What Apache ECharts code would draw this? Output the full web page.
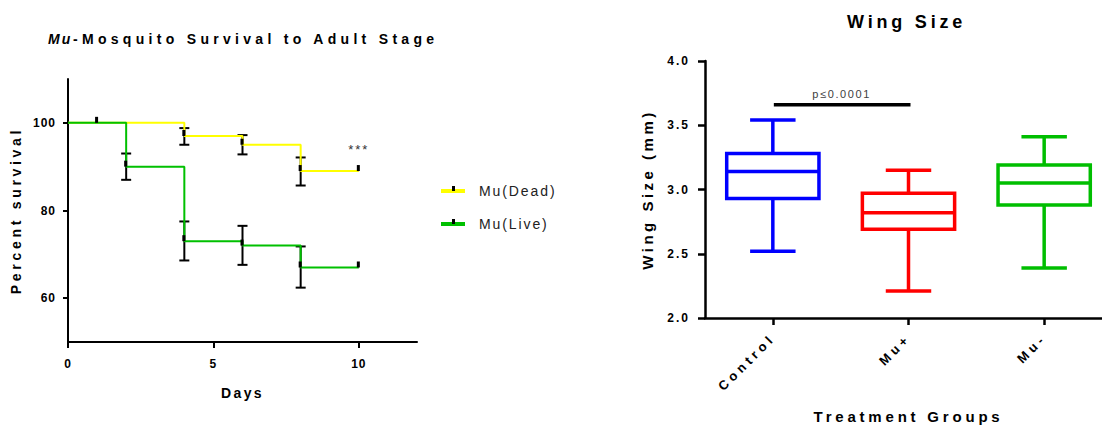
<!DOCTYPE html>
<html>
<head>
<meta charset="utf-8">
<script src="https://cdn.jsdelivr.net/npm/echarts@6/dist/echarts.min.js"></script>
<style>
html,body{margin:0;padding:0;background:#fff;}
#c{width:1102px;height:425px;}
</style>
</head>
<body>
<div id="c"></div>
<script>
// ---------------- DATA ----------------
// Left: Kaplan-Meier style survival
const deadDays = [0, 4, 6, 8, 10];
const deadSurvival = [100, 97, 95, 89, 89];
const liveDays = [0, 2, 4, 6, 8, 10];
const liveSurvival = [100, 90, 73, 72, 67, 67];

const deadErrDays = [4, 6, 8];
const deadErrLow = [95.0, 92.8, 85.7];
const deadErrHigh = [98.8, 97.2, 92.1];
const liveErrDays = [2, 4, 6, 8];
const liveErrLow = [87.0, 68.6, 67.6, 62.4];
const liveErrHigh = [93.0, 77.5, 76.5, 71.8];

const deadCensorDays = [1, 4, 6, 8, 10];
const deadCensorVals = [100, 97, 95, 89, 89];
const liveCensorDays = [2, 4, 6, 8, 10];
const liveCensorVals = [90, 73, 72, 67, 67];

const survivalXTicks = [0, 5, 10];
const survivalYTicks = [60, 80, 100];
const starsLabel = '***';
const starsAt = [10, 93.9];

// Right: wing size box plot
const groups = ['Control', 'Mu+', 'Mu-'];
const whiskerLow = [2.52, 2.21, 2.39];
const q1 = [2.93, 2.69, 2.88];
const median = [3.14, 2.82, 3.05];
const q3 = [3.28, 2.97, 3.19];
const whiskerHigh = [3.54, 3.15, 3.41];
const sigFrom = 0, sigTo = 1, sigLevel = 3.66, sigLabel = 'p\u22640.0001';

// ---------------- STYLE ----------------
const FONT = "'Liberation Sans', Arial, Helvetica, sans-serif";
const YELLOW = '#FFFF00';
const GREEN = '#00C000';
const boxColors = ['#0000FF', '#FF0000', '#00BE00'];

const SPACING = {
  'Mu': 2, '-Mosquito Survival to Adult Stage': 4.3, 'Wing Size': 3.8,
  'Percent survival': 3.7, 'Days': 2.4, 'Wing Size (mm)': 3.5, 'Treatment Groups': 3.8,
  'Mu(Dead)': 1.9, 'Mu(Live)': 1.9, 'p\u22640.0001': 1.6, '***': 2,
  'Control': 4, 'Mu+': 4, 'Mu-': 4
};
function spacingFor(t) {
  if (SPACING[t] != null) return SPACING[t];
  if (/^\d\.\d$/.test(t)) return 2;
  if (/^\d+$/.test(t)) return 1;
  return null;
}

const chart = echarts.init(document.getElementById('c'), null, {renderer: 'svg', width: 1102, height: 425});

function errorBarItem(params, api) {
  const x = api.value(0);
  const lo = api.coord([x, api.value(1)]);
  const hi = api.coord([x, api.value(2)]);
  const hw = 5;
  const st = {stroke: '#000', lineWidth: 2};
  return {type: 'group', children: [
    {type: 'line', shape: {x1: lo[0], y1: lo[1], x2: hi[0], y2: hi[1]}, style: st},
    {type: 'line', shape: {x1: lo[0] - hw, y1: lo[1], x2: lo[0] + hw, y2: lo[1]}, style: st},
    {type: 'line', shape: {x1: hi[0] - hw, y1: hi[1], x2: hi[0] + hw, y2: hi[1]}, style: st}
  ]};
}
function censorItem(params, api) {
  const p = api.coord([api.value(0), api.value(1)]);
  return {type: 'rect', shape: {x: p[0] - 2, y: p[1] - 6, width: 3, height: 6}, style: {fill: '#000'}};
}
function boxItem(params, api) {
  const i = api.value(0);
  const band = api.size([1, 0])[0];
  const bw = band * 0.68, cw = band * 0.335;
  const cx = api.coord([i, 0])[0];
  const y = k => api.coord([i, api.value(k)])[1];
  const yMin = y(1), yQ1 = y(2), yMed = y(3), yQ3 = y(4), yMax = y(5);
  const col = boxColors[params.dataIndex];
  const st = {stroke: col, lineWidth: 3.5, fill: null};
  return {type: 'group', children: [
    {type: 'rect', shape: {x: cx - bw / 2, y: yQ3, width: bw, height: yQ1 - yQ3}, style: {stroke: col, lineWidth: 3.5, fill: 'none'}},
    {type: 'line', shape: {x1: cx - bw / 2, y1: yMed, x2: cx + bw / 2, y2: yMed}, style: st},
    {type: 'line', shape: {x1: cx, y1: yQ3, x2: cx, y2: yMax}, style: st},
    {type: 'line', shape: {x1: cx, y1: yQ1, x2: cx, y2: yMin}, style: st},
    {type: 'line', shape: {x1: cx - cw / 2, y1: yMax, x2: cx + cw / 2, y2: yMax}, style: st},
    {type: 'line', shape: {x1: cx - cw / 2, y1: yMin, x2: cx + cw / 2, y2: yMin}, style: st}
  ]};
}
function sigItem(params, api) {
  const a = api.coord([api.value(0), api.value(2)]);
  const b = api.coord([api.value(1), api.value(2)]);
  return {type: 'group', children: [
    {type: 'line', shape: {x1: a[0] + 1, y1: a[1], x2: b[0] + 2, y2: b[1]}, style: {stroke: '#000', lineWidth: 3.5}},
    {type: 'text', x: (a[0] + b[0]) / 2 + 1, y: a[1] - 11,
     style: {text: sigLabel, fill: '#404040', font: '11px ' + FONT, align: 'center', verticalAlign: 'middle'}}
  ]};
}

const option = {
  animation: false,
  textStyle: {fontFamily: FONT},
  title: [
    {text: 'Mu', left: 48, top: 32, padding: 0,
     textStyle: {fontStyle: 'italic', fontWeight: 'bold', fontSize: 14, color: '#000', fontFamily: FONT}},
    {text: '-Mosquito Survival to Adult Stage', left: 73, top: 32, padding: 0,
     textStyle: {fontWeight: 'bold', fontSize: 14, color: '#000', fontFamily: FONT}},
    {text: 'Wing Size', left: 847, top: 13, padding: 0,
     textStyle: {fontWeight: 'bold', fontSize: 18, color: '#000', fontFamily: FONT}}
  ],
  legend: {
    data: ['Mu(Dead)', 'Mu(Live)'],
    orient: 'vertical', left: 441, top: 184, padding: 0,
    icon: 'rect', itemWidth: 24, itemHeight: 4, itemGap: 19,
    textStyle: {fontSize: 14, color: '#222', fontFamily: FONT, padding: [0, 0, 0, 9]}
  },
  grid: [
    {left: 68, right: 685, top: 79, bottom: 83, outerBoundsMode: 'none', containLabel: false},
    {left: 705, right: -10, top: 61, bottom: 107, outerBoundsMode: 'none', containLabel: false}
  ],
  xAxis: [
    {type: 'value', gridIndex: 0, min: 0, max: 12,
     name: 'Days', nameLocation: 'middle', nameGap: 44,
     nameTextStyle: {fontWeight: 'bold', fontSize: 14, color: '#000'},
     axisLine: {show: true, onZero: false, lineStyle: {color: '#000', width: 2}},
     axisTick: {show: true, length: 6, customValues: survivalXTicks, lineStyle: {color: '#000', width: 2}},
     axisLabel: {customValues: survivalXTicks, margin: 16, fontWeight: 'bold', fontSize: 12, color: '#000'},
     splitLine: {show: false}},
    {type: 'category', gridIndex: 1, data: groups, boundaryGap: true,
     name: 'Treatment Groups', nameLocation: 'middle', nameGap: 91,
     nameTextStyle: {fontWeight: 'bold', fontSize: 15, color: '#000'},
     axisLine: {show: true, lineStyle: {color: '#000', width: 2.5}},
     axisTick: {show: true, alignWithLabel: true, length: 7, lineStyle: {color: '#000', width: 2.5}},
     axisLabel: {rotate: 45, margin: 18, fontWeight: 'bold', fontSize: 13, color: '#000', interval: 0},
     splitLine: {show: false}}
  ],
  yAxis: [
    {type: 'value', gridIndex: 0, min: 50, max: 110,
     name: 'Percent survival', nameLocation: 'middle', nameGap: 45,
     nameTextStyle: {fontWeight: 'bold', fontSize: 14, color: '#000'},
     axisLine: {show: true, onZero: false, lineStyle: {color: '#000', width: 2}},
     axisTick: {show: true, length: 5, customValues: survivalYTicks, lineStyle: {color: '#000', width: 2}},
     axisLabel: {customValues: survivalYTicks, margin: 12, fontWeight: 'bold', fontSize: 12, color: '#000'},
     splitLine: {show: false}},
    {type: 'value', gridIndex: 1, min: 2, max: 4, interval: 0.5,
     name: 'Wing Size (mm)', nameLocation: 'middle', nameGap: 50,
     nameTextStyle: {fontWeight: 'bold', fontSize: 15, color: '#000'},
     axisLine: {show: true, lineStyle: {color: '#000', width: 2.5}},
     axisTick: {show: true, length: 7, lineStyle: {color: '#000', width: 2.5}},
     axisLabel: {margin: 15, fontWeight: 'bold', fontSize: 12, color: '#000', formatter: v => v.toFixed(1)},
     splitLine: {show: false}}
  ],
  series: [
    {type: 'line', name: 'Mu(Dead)', xAxisIndex: 0, yAxisIndex: 0, step: 'end', symbol: 'none',
     data: deadDays.map((d, i) => [d, deadSurvival[i]]),
     lineStyle: {color: YELLOW, width: 2}, itemStyle: {color: YELLOW},
     markPoint: {symbol: 'circle', symbolSize: 0, silent: true,
       label: {show: true, position: 'inside', formatter: starsLabel, fontSize: 13, color: '#333', fontFamily: FONT},
       data: [{coord: starsAt}]}},
    {type: 'line', name: 'Mu(Live)', xAxisIndex: 0, yAxisIndex: 0, step: 'end', symbol: 'none',
     data: liveDays.map((d, i) => [d, liveSurvival[i]]),
     lineStyle: {color: GREEN, width: 2}, itemStyle: {color: GREEN}},
    {type: 'custom', name: 'deadErr', xAxisIndex: 0, yAxisIndex: 0, renderItem: errorBarItem,
     data: deadErrDays.map((d, i) => [d, deadErrLow[i], deadErrHigh[i]]), z: 3},
    {type: 'custom', name: 'liveErr', xAxisIndex: 0, yAxisIndex: 0, renderItem: errorBarItem,
     data: liveErrDays.map((d, i) => [d, liveErrLow[i], liveErrHigh[i]]), z: 3},
    {type: 'custom', name: 'deadCensor', xAxisIndex: 0, yAxisIndex: 0, renderItem: censorItem,
     data: deadCensorDays.map((d, i) => [d, deadCensorVals[i]]), z: 4},
    {type: 'custom', name: 'liveCensor', xAxisIndex: 0, yAxisIndex: 0, renderItem: censorItem,
     data: liveCensorDays.map((d, i) => [d, liveCensorVals[i]]), z: 4},
    {type: 'custom', name: 'wing', xAxisIndex: 1, yAxisIndex: 1, renderItem: boxItem,
     encode: {x: 0, y: [1, 2, 3, 4, 5]},
     data: groups.map((g, i) => [i, whiskerLow[i], q1[i], median[i], q3[i], whiskerHigh[i]])},
    {type: 'custom', name: 'sig', xAxisIndex: 1, yAxisIndex: 1, renderItem: sigItem,
     encode: {x: [0, 1], y: 2},
     data: [[sigFrom, sigTo, sigLevel]]}
  ],
  graphic: [
    {type: 'rect', left: 452, top: 186, shape: {width: 3, height: 5}, style: {fill: '#000'}, z: 100},
    {type: 'rect', left: 452, top: 219, shape: {width: 3, height: 5}, style: {fill: '#000'}, z: 100}
  ]
};
chart.setOption(option);

function applySpacing() {
  document.querySelectorAll('#c svg text').forEach(t => {
    const s = spacingFor(t.textContent);
    if (s != null) t.style.letterSpacing = s + 'px';
  });
}
chart.on('finished', applySpacing);
applySpacing();
setTimeout(applySpacing, 0);
new MutationObserver(applySpacing).observe(document.querySelector('#c'), {childList: true, subtree: true});
</script>
</body>
</html>
